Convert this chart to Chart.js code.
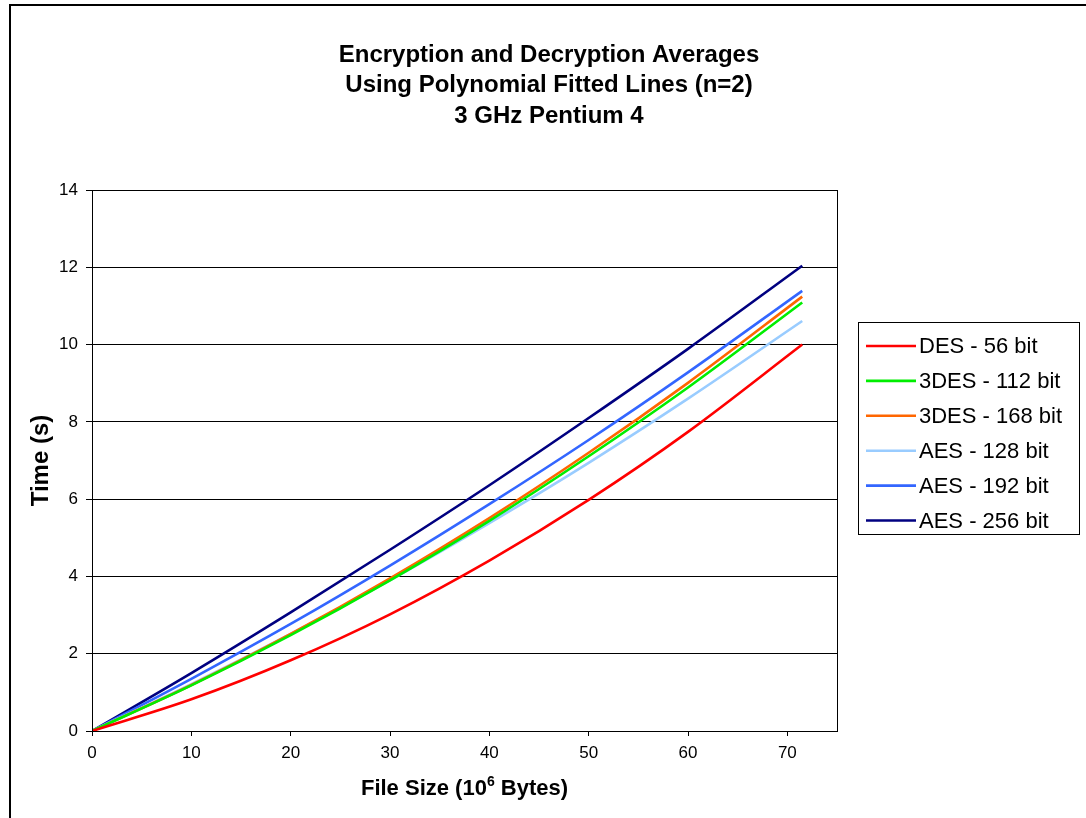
<!DOCTYPE html>
<html>
<head>
<meta charset="utf-8">
<title>Encryption and Decryption Averages</title>
<script src="https://cdn.jsdelivr.net/npm/chart.js@4/dist/chart.umd.min.js"></script>
<style>
  html, body { margin: 0; padding: 0; background: #fff; overflow: hidden; }
  #wrap { position: relative; width: 1086px; height: 818px; }
  #frame { position: absolute; left: 9px; top: 4px; width: 2000px; height: 2000px; border: 2px solid #000; box-sizing: border-box; pointer-events: none; }
  canvas { position: absolute; left: 0; top: 0; }
</style>
</head>
<body>
<div id="wrap">
  <canvas id="chart" width="1086" height="818"></canvas>
  <div id="frame"></div>
</div>
<script>
// File sizes (10^6 bytes) at which the fitted curves are sampled
const fileSizes = [0, 10, 20, 30, 40, 50, 60, 71.5];

// Fitted average times (s) for each cipher
const des56   = [0, 0.82, 1.83, 3.02, 4.41, 5.98, 7.74, 10.00];
const tdes112 = [0, 1.18, 2.48, 3.90, 5.44, 7.11, 8.89, 11.09];
const tdes168 = [0, 1.19, 2.51, 3.95, 5.51, 7.20, 9.01, 11.24];
const aes128  = [0, 1.21, 2.51, 3.90, 5.38, 6.94, 8.60, 10.61];
const aes192  = [0, 1.35, 2.77, 4.28, 5.87, 7.53, 9.28, 11.39];
const aes256  = [0, 1.50, 3.07, 4.69, 6.36, 8.10, 9.89, 12.04];

const seriesLabels = ['DES - 56 bit', '3DES - 112 bit', '3DES - 168 bit', 'AES - 128 bit', 'AES - 192 bit', 'AES - 256 bit'];
const seriesValues = [des56, tdes112, tdes168, aes128, aes192, aes256];
const seriesColors = ['#ff0000', '#00ee00', '#ff6600', '#99ccff', '#3366ff', '#000080'];

const xTickValues = [0, 10, 20, 30, 40, 50, 60, 70];
const yTickValues = [0, 2, 4, 6, 8, 10, 12, 14];

const titleLines = ['Encryption and Decryption Averages', 'Using Polynomial Fitted Lines (n=2)', '3 GHz Pentium 4'];
const xTitleParts = ['File Size (10', '6', ' Bytes)'];

const FONT = '"Liberation Sans", Arial, sans-serif';

const datasets = seriesLabels.map((label, i) => ({
  label,
  data: fileSizes.map((x, j) => ({ x, y: seriesValues[i][j] })),
  borderColor: seriesColors[i],
  backgroundColor: seriesColors[i],
  borderWidth: 2.6,
  pointRadius: 0,
  cubicInterpolationMode: 'monotone',
  fill: false
}));

// Frame round the plot area (top and right edges)
const plotFrame = {
  id: 'plotFrame',
  afterDraw(chart) {
    const { ctx, chartArea: a } = chart;
    ctx.save();
    ctx.strokeStyle = '#000';
    ctx.lineWidth = 1;
    ctx.strokeRect(Math.round(a.left) + 0.5, Math.round(a.top) + 0.5, Math.round(a.right - a.left), Math.round(a.bottom - a.top));
    ctx.restore();
  }
};

// Three-line heading centred over the whole figure
const heading = {
  id: 'heading',
  afterDraw(chart) {
    const { ctx } = chart;
    ctx.save();
    ctx.font = 'bold 24px ' + FONT;
    ctx.fillStyle = '#000';
    ctx.textAlign = 'center';
    ctx.textBaseline = 'middle';
    titleLines.forEach((line, i) => ctx.fillText(line, 549, 55 + i * 30.5));
    ctx.restore();
  }
};

// X axis title with a raised exponent
const xAxisTitle = {
  id: 'xAxisTitle',
  afterDraw(chart) {
    const { ctx, chartArea: a } = chart;
    ctx.save();
    ctx.fillStyle = '#000';
    ctx.textBaseline = 'alphabetic';
    const big = 'bold 22px ' + FONT;
    const small = 'bold 14px ' + FONT;
    ctx.font = big;
    const w0 = ctx.measureText(xTitleParts[0]).width;
    const w2 = ctx.measureText(xTitleParts[2]).width;
    ctx.font = small;
    const w1 = ctx.measureText(xTitleParts[1]).width;
    const total = w0 + w1 + w2;
    let x = (a.left + a.right) / 2 - total / 2;
    const base = 795;
    ctx.font = big;
    ctx.fillText(xTitleParts[0], x, base);
    x += w0;
    ctx.font = small;
    ctx.fillText(xTitleParts[1], x, base - 9);
    x += w1;
    ctx.font = big;
    ctx.fillText(xTitleParts[2], x, base);
    ctx.restore();
  }
};

// Boxed legend at the right of the plot
const boxLegend = {
  id: 'boxLegend',
  afterDraw(chart) {
    const { ctx } = chart;
    const box = { left: 858, top: 322, width: 221, height: 212 };
    ctx.save();
    ctx.fillStyle = '#fff';
    ctx.fillRect(box.left, box.top, box.width, box.height);
    ctx.strokeStyle = '#000';
    ctx.lineWidth = 1;
    ctx.strokeRect(box.left + 0.5, box.top + 0.5, box.width, box.height);
    ctx.font = '22px ' + FONT;
    ctx.textBaseline = 'middle';
    ctx.fillStyle = '#000';
    chart.data.datasets.forEach((ds, i) => {
      const y = box.top + 24 + i * 34.9;
      ctx.strokeStyle = ds.borderColor;
      ctx.lineWidth = 2.6;
      ctx.beginPath();
      ctx.moveTo(866, y);
      ctx.lineTo(916, y);
      ctx.stroke();
      ctx.fillText(ds.label, 919, y + 1);
    });
    ctx.restore();
  }
};

new Chart(document.getElementById('chart'), {
  type: 'line',
  data: { datasets },
  plugins: [plotFrame, heading, xAxisTitle, boxLegend],
  options: {
    responsive: false,
    animation: false,
    devicePixelRatio: 1,
    layout: { padding: { left: 0, right: 249, top: 190, bottom: 0 } },
    plugins: {
      legend: { display: false },
      tooltip: { enabled: false },
      title: { display: false }
    },
    scales: {
      x: {
        type: 'linear',
        min: 0,
        max: 75,
        afterBuildTicks: (s) => { s.ticks = xTickValues.map(v => ({ value: v })); },
        afterFit: (s) => { s.height = 87; },
        grid: { drawOnChartArea: false, drawTicks: true, tickLength: 5, color: '#000' },
        border: { color: '#000', width: 1 },
        ticks: { color: '#000', padding: 7, maxRotation: 0, font: { family: FONT, size: 17 } },
        title: { display: false }
      },
      y: {
        type: 'linear',
        min: 0,
        max: 14,
        afterBuildTicks: (s) => { s.ticks = yTickValues.map(v => ({ value: v })); },
        afterFit: (s) => { s.width = 92; },
        grid: { color: '#000', drawTicks: true, tickLength: 6 },
        border: { color: '#000', width: 1 },
        ticks: { color: '#000', padding: 8, font: { family: FONT, size: 17 } },
        title: {
          display: true,
          text: 'Time (s)',
          color: '#000',
          font: { family: FONT, size: 24, weight: 'bold', lineHeight: 1.2 },
          padding: { top: 27, bottom: 0 }
        }
      }
    }
  }
});
</script>
</body>
</html>
